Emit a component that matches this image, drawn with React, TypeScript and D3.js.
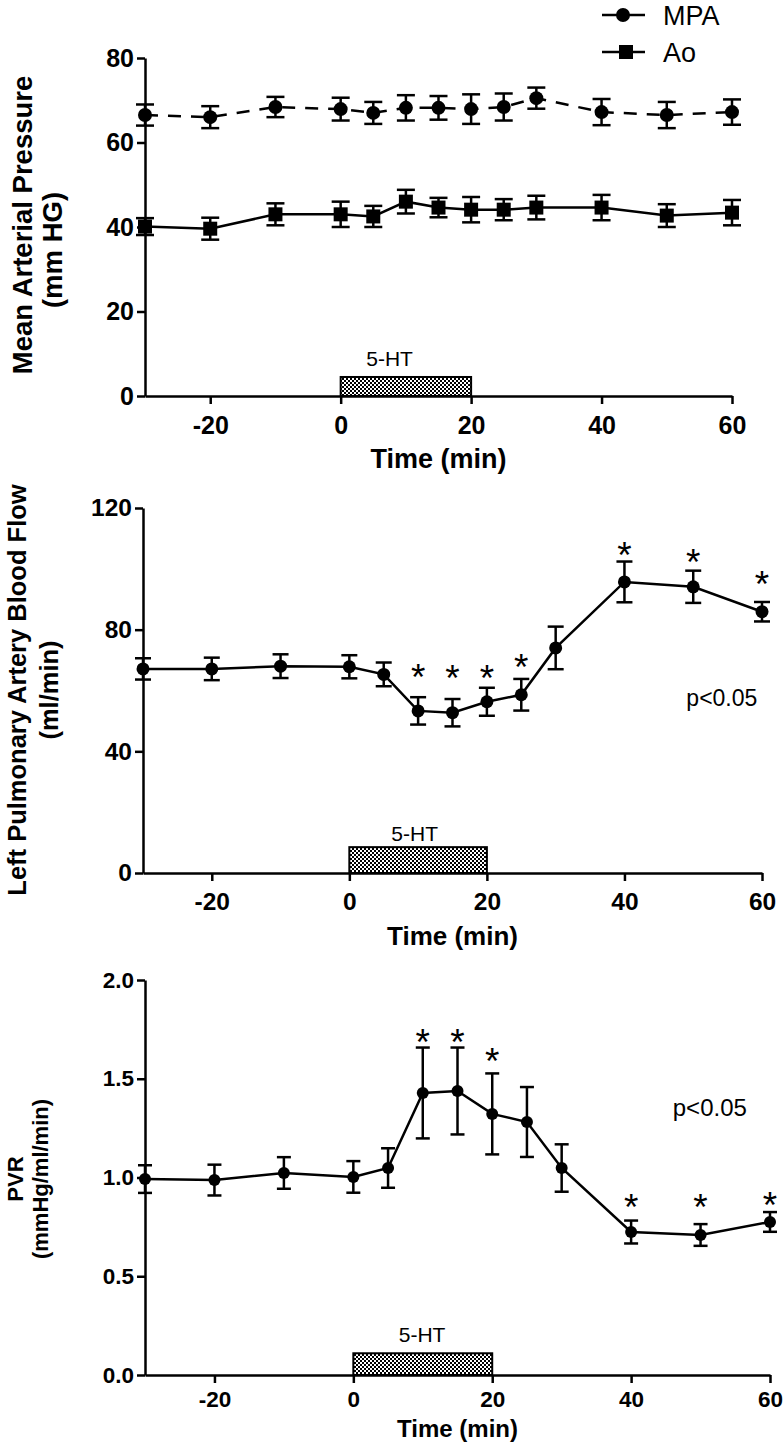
import { useEffect, useRef } from "react"
import * as d3 from "d3"

// time points (min), shared by all three panels
const times = [-30, -20, -10, 0, 5, 10, 15, 20, 25, 30, 40, 50, 60]

// panel 1: mean arterial pressure
const mpaMean = [66.5, 66.0, 68.4, 67.9, 67.0, 68.2, 68.2, 67.9, 68.4, 70.5, 67.2, 66.5, 67.2]
const mpaErr = [2.5, 2.6, 2.4, 2.7, 2.6, 3.0, 2.8, 3.5, 3.2, 2.5, 3.1, 3.1, 3.0]
const aoMean = [40.1, 39.6, 43.0, 43.0, 42.5, 46.0, 44.6, 44.1, 44.1, 44.6, 44.6, 42.7, 43.4]
const aoErr = [2.0, 2.6, 2.6, 3.0, 2.5, 2.8, 2.3, 3.0, 2.5, 2.8, 3.0, 2.7, 3.0]

// panel 2: left pulmonary artery blood flow
const flowMean = [67.1, 67.1, 68.0, 67.8, 65.3, 53.3, 52.7, 56.3, 58.6, 74.0, 95.7, 94.1, 85.9]
const flowErr = [3.5, 3.7, 3.9, 3.8, 3.9, 4.5, 4.5, 4.6, 5.2, 7.0, 6.7, 5.3, 3.2]
const flowStarTimes = [10, 15, 20, 25, 40, 50, 60]
const flowStarAt = [66.1, 65.8, 65.8, 69.4, 106.3, 104.0, 96.7]

// panel 3: PVR
const pvrMean = [0.992, 0.987, 1.023, 1.003, 1.048, 1.428, 1.438, 1.322, 1.281, 1.048, 0.724, 0.709, 0.775]
const pvrErr = [0.07, 0.078, 0.08, 0.08, 0.1, 0.23, 0.22, 0.205, 0.177, 0.12, 0.058, 0.055, 0.05]
const pvrStarTimes = [10, 15, 20, 40, 50, 60]
const pvrStarAt = [1.711, 1.711, 1.615, 0.876, 0.876, 0.886]

const xTicks = [-20, 0, 20, 40, 60]
const mapTicks = [0, 20, 40, 60, 80]
const flowTicks = [0, 40, 80, 120]
const pvrTicks = [0, 0.5, 1.0, 1.5, 2.0]

const FONT = "'Liberation Sans', Arial, Helvetica, sans-serif"

// plain hyphen for negatives, like the original
const intFmt = (v: number) => String(v)
const oneDec = (v: number) => v.toFixed(1)

type Series = { mean: number[]; err: number[]; marker: "circle" | "square"; dash?: string }

type Panel = {
    x0: number; x1: number; y0: number; y1: number
    yMax: number; yTicks: number[]; yFmt: (v: number) => string
    tickFont: number; tickPad: number
    titleLines: string[]; titleFont: number; titleX: number[]; titleY: number[]
    xTitleFont: number; xTitleY: number
    barH: number; htX: number; htY: number
    series: Series[]
    r: number; cap: number
    stars?: { t: number[]; v: number[] }
    pText?: { x: number; y: number; size: number }
}

function drawPanel(svg: any, p: Panel) {
    const x = d3.scaleLinear().domain([-30, 60]).range([p.x0, p.x1])
    const y = d3.scaleLinear().domain([0, p.yMax]).range([p.y0, p.y1])
    const g = svg.append("g")

    // 5-HT infusion bar
    g.append("rect")
        .attr("x", x(0))
        .attr("y", y(p.barH))
        .attr("width", x(20) - x(0))
        .attr("height", y(0) - y(p.barH))
        .attr("fill", "url(#checker)")
        .attr("stroke", "#000")
        .attr("stroke-width", 2)
    g.append("text")
        .attr("x", x(p.htX))
        .attr("y", y(p.htY))
        .attr("text-anchor", "middle")
        .attr("font-size", 21)
        .attr("font-family", FONT)
        .text("5-HT")

    const styleAxis = (a: any) => {
        a.attr("font-family", FONT).attr("font-size", p.tickFont).attr("font-weight", "bold")
        a.selectAll("path,line").attr("stroke", "#000").attr("stroke-width", 2.5)
        a.selectAll("text").attr("fill", "#000")
    }

    const ax = g.append("g")
        .attr("transform", `translate(0,${p.y0})`)
        .call(d3.axisBottom(x).tickValues(xTicks).tickSize(8).tickSizeOuter(0).tickPadding(p.tickPad).tickFormat(intFmt as any))
    styleAxis(ax)

    const ay = g.append("g")
        .attr("transform", `translate(${p.x0},0)`)
        .call(d3.axisLeft(y).tickValues(p.yTicks).tickSize(8).tickSizeOuter(0).tickPadding(3).tickFormat(p.yFmt as any))
    styleAxis(ay)

    // axis titles
    p.titleLines.forEach((t, i) => {
        g.append("text")
            .attr("transform", `translate(${p.titleX[i]},${p.titleY[i]}) rotate(-90)`)
            .attr("text-anchor", "middle")
            .attr("font-size", p.titleFont)
            .attr("font-weight", "bold")
            .attr("font-family", FONT)
            .text(t)
    })
    g.append("text")
        .attr("x", (p.x0 + p.x1) / 2)
        .attr("y", p.xTitleY)
        .attr("text-anchor", "middle")
        .attr("font-size", p.xTitleFont)
        .attr("font-weight", "bold")
        .attr("font-family", FONT)
        .text("Time (min)")

    p.series.forEach(s => {
        const pts = times.map((t, i) => ({ t, m: s.mean[i], e: s.err[i] }))
        const line = d3.line<any>().x(d => x(d.t)).y(d => y(d.m))
        g.append("path")
            .attr("d", line(pts))
            .attr("fill", "none")
            .attr("stroke", "#000")
            .attr("stroke-width", 2.5)
            .attr("stroke-dasharray", s.dash || null)

        const eb = g.append("g").attr("stroke", "#000").attr("stroke-width", 2.5)
        pts.forEach(d => {
            const cx = x(d.t)
            eb.append("line").attr("x1", cx).attr("x2", cx).attr("y1", y(d.m - d.e)).attr("y2", y(d.m + d.e))
            eb.append("line").attr("x1", cx - p.cap).attr("x2", cx + p.cap).attr("y1", y(d.m + d.e)).attr("y2", y(d.m + d.e))
            eb.append("line").attr("x1", cx - p.cap).attr("x2", cx + p.cap).attr("y1", y(d.m - d.e)).attr("y2", y(d.m - d.e))
        })

        if (s.marker === "circle") {
            g.append("g").selectAll("circle").data(pts).join("circle")
                .attr("cx", (d: any) => x(d.t))
                .attr("cy", (d: any) => y(d.m))
                .attr("r", p.r)
                .attr("fill", "#000")
        } else {
            g.append("g").selectAll("rect").data(pts).join("rect")
                .attr("x", (d: any) => x(d.t) - p.r)
                .attr("y", (d: any) => y(d.m) - p.r)
                .attr("width", p.r * 2)
                .attr("height", p.r * 2)
                .attr("fill", "#000")
        }
    })

    if (p.stars) {
        const st = p.stars
        g.append("g").selectAll("text").data(st.t).join("text")
            .attr("x", (t: number) => x(t))
            .attr("y", (t: number, i: number) => y(st.v[i]) + 18)
            .attr("text-anchor", "middle")
            .attr("font-size", 37)
            .attr("font-family", FONT)
            .text("*")
    }

    if (p.pText) {
        g.append("text")
            .attr("x", x(p.pText.x))
            .attr("y", y(p.pText.y))
            .attr("font-size", p.pText.size)
            .attr("font-family", FONT)
            .text("p<0.05")
    }
}

export default function App() {
    const ref = useRef<SVGSVGElement | null>(null)

    useEffect(() => {
        const svg = d3.select(ref.current)
        svg.selectAll("*").remove()

        const defs = svg.append("defs")
        const pat = defs.append("pattern")
            .attr("id", "checker")
            .attr("width", 4)
            .attr("height", 4)
            .attr("patternUnits", "userSpaceOnUse")
        pat.append("rect").attr("width", 4).attr("height", 4).attr("fill", "#fff")
        pat.append("rect").attr("width", 2).attr("height", 2).attr("fill", "#000")
        pat.append("rect").attr("x", 2).attr("y", 2).attr("width", 2).attr("height", 2).attr("fill", "#000")

        drawPanel(svg, {
            x0: 145, x1: 732, y0: 396, y1: 58,
            yMax: 80, yTicks: mapTicks, yFmt: intFmt,
            tickFont: 25, tickPad: 12,
            titleLines: ["Mean Arterial Pressure", "(mm HG)"], titleFont: 27.5,
            titleX: [32, 62], titleY: [225, 250],
            xTitleFont: 27, xTitleY: 468,
            barH: 4.5, htX: 7.5, htY: 7,
            series: [
                { mean: mpaMean, err: mpaErr, marker: "circle", dash: "13,10" },
                { mean: aoMean, err: aoErr, marker: "square" },
            ],
            r: 7, cap: 9,
        })

        drawPanel(svg, {
            x0: 143, x1: 762, y0: 873, y1: 508,
            yMax: 120, yTicks: flowTicks, yFmt: intFmt,
            tickFont: 24.5, tickPad: 12,
            titleLines: ["Left Pulmonary Artery Blood Flow", "(ml/min)"], titleFont: 25.5,
            titleX: [26, 58], titleY: [690, 690],
            xTitleFont: 26, xTitleY: 945,
            barH: 8.5, htX: 9.5, htY: 10.5,
            series: [{ mean: flowMean, err: flowErr, marker: "circle" }],
            r: 6.5, cap: 8,
            stars: { t: flowStarTimes, v: flowStarAt },
            pText: { x: 49, y: 55, size: 23 },
        })

        drawPanel(svg, {
            x0: 145, x1: 770, y0: 1375, y1: 980,
            yMax: 2, yTicks: pvrTicks, yFmt: oneDec,
            tickFont: 22.5, tickPad: 8,
            titleLines: ["PVR", "(mmHg/ml/min)"], titleFont: 22,
            titleX: [23, 48], titleY: [1179, 1179],
            xTitleFont: 24, xTitleY: 1437,
            barH: 0.11, htX: 9.9, htY: 0.165,
            series: [{ mean: pvrMean, err: pvrErr, marker: "circle" }],
            r: 6, cap: 7,
            stars: { t: pvrStarTimes, v: pvrStarAt },
            pText: { x: 46, y: 1.31, size: 24 },
        })

        // legend
        const legend = [
            { label: "MPA", marker: "circle", y: 15 },
            { label: "Ao", marker: "square", y: 52 },
        ]
        const lg = svg.append("g").attr("font-family", FONT)
        legend.forEach(l => {
            lg.append("line").attr("x1", 602).attr("x2", 645).attr("y1", l.y).attr("y2", l.y)
                .attr("stroke", "#000").attr("stroke-width", 2.5)
            if (l.marker === "circle") {
                lg.append("circle").attr("cx", 623).attr("cy", l.y).attr("r", 7).attr("fill", "#000")
            } else {
                lg.append("rect").attr("x", 619).attr("y", l.y - 7).attr("width", 14).attr("height", 14).attr("fill", "#000")
            }
            lg.append("text").attr("x", 663).attr("y", l.y + 10).attr("font-size", 27).text(l.label)
        })
    }, [])

    return (
        <svg
            ref={ref}
            width={784}
            height={1445}
            style={{ position: "absolute", left: 0, top: 0, background: "#fff" }}
        />
    )
}
